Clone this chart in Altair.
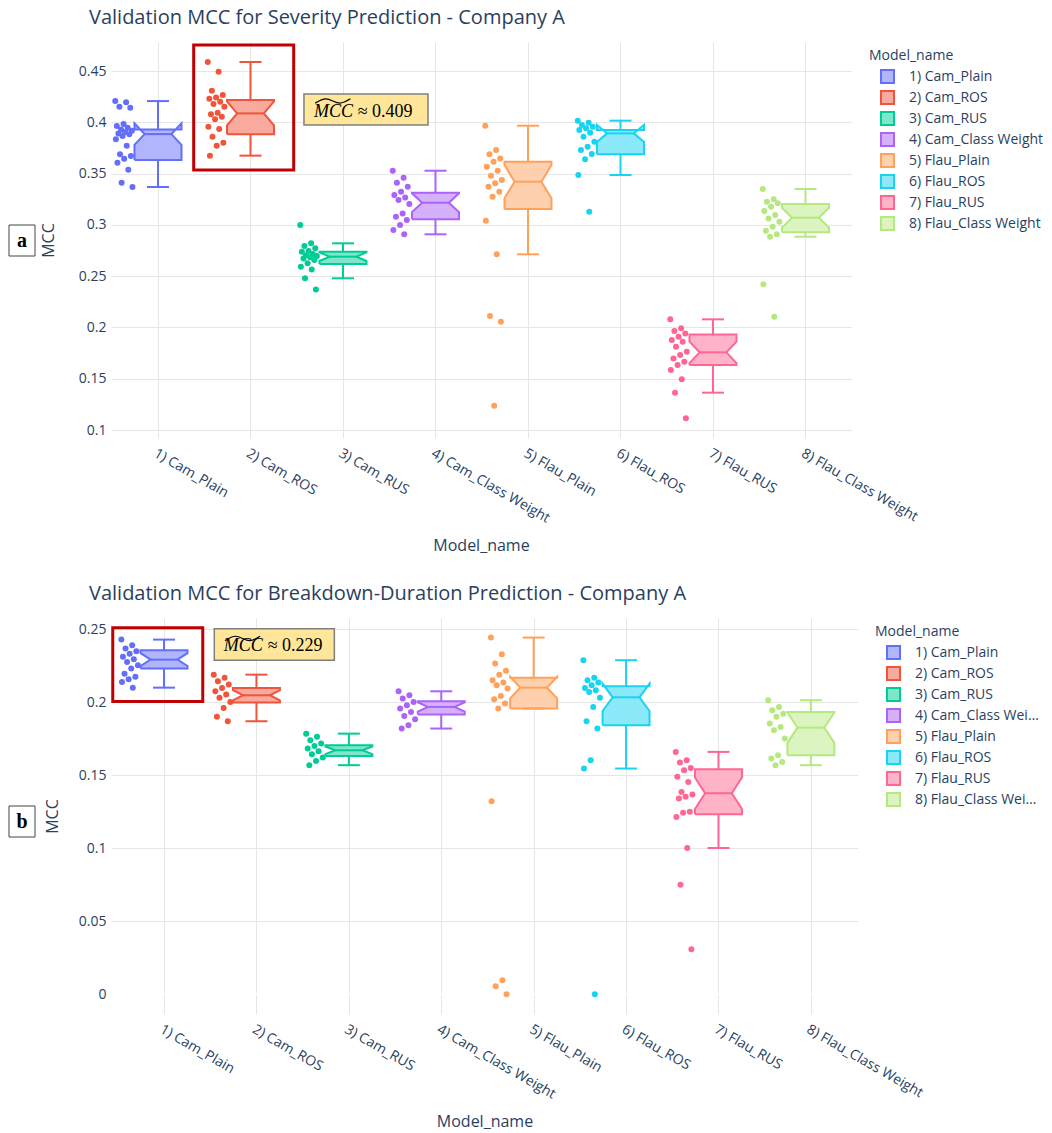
import json
import altair as alt
import numpy as np
import pandas as pd

MODELS = ["1) Cam_Plain", "2) Cam_ROS", "3) Cam_RUS", "4) Cam_Class Weight",
          "5) Flau_Plain", "6) Flau_ROS", "7) Flau_RUS", "8) Flau_Class Weight"]
COLORS = ["#636efa", "#EF553B", "#00cc96", "#ab63fa", "#FFA15A", "#19d3f3", "#FF6692", "#B6E880"]
FILLS = ["#B1B6FC", "#F7AA9D", "#80E6CB", "#D5B1FC", "#FFD0AD", "#8CE9F9", "#FFB3C9", "#DBF4C0"]

# ---- Panel a: severity prediction (validation MCC per run) ----
SEV_CAM_PLAIN = [0.4207, 0.4195, 0.4152, 0.4142, 0.3983, 0.3964, 0.3948, 0.3931, 0.3918, 0.3905, 0.3892,
                 0.3883, 0.3866, 0.3834, 0.3772, 0.3688, 0.3671, 0.3645, 0.3606, 0.3538, 0.3411, 0.3369]
SEV_CAM_ROS = [0.4588, 0.4494, 0.4308, 0.4266, 0.4243, 0.4230, 0.4201, 0.4178, 0.4152, 0.4094, 0.4078,
               0.4055, 0.4029, 0.3957, 0.3934, 0.3860, 0.3801, 0.3772, 0.3675]
SEV_CAM_RUS = [0.2998, 0.2820, 0.2794, 0.2771, 0.2745, 0.2739, 0.2716, 0.2705, 0.2696, 0.2685, 0.2673,
               0.2657, 0.2625, 0.2592, 0.2566, 0.2479, 0.2371]
SEV_CAM_CW = [0.3528, 0.3460, 0.3411, 0.3372, 0.3323, 0.3291, 0.3268, 0.3242, 0.3203, 0.3112, 0.3080,
              0.3047, 0.2998, 0.2950, 0.2908]
SEV_FLAU_PLAIN = [0.3967, 0.3730, 0.3688, 0.3648, 0.3616, 0.3567, 0.3528, 0.3479, 0.3437, 0.3405, 0.3372,
                  0.3323, 0.3275, 0.3041, 0.2713, 0.2111, 0.2056, 0.1237]
SEV_FLAU_ROS = [0.4016, 0.3996, 0.3974, 0.3957, 0.3941, 0.3925, 0.3899, 0.3860, 0.3811, 0.3762, 0.3730,
                0.3691, 0.3639, 0.3486, 0.3129]
SEV_FLAU_RUS = [0.2079, 0.1991, 0.1965, 0.1942, 0.1910, 0.1877, 0.1861, 0.1812, 0.1763, 0.1731, 0.1698,
                0.1666, 0.1633, 0.1585, 0.1494, 0.1364, 0.1114]
SEV_FLAU_CW = [0.3350, 0.3249, 0.3226, 0.3210, 0.3177, 0.3135, 0.3096, 0.3063, 0.3031, 0.2982, 0.2943,
               0.2908, 0.2885, 0.2420, 0.2105]

SEV_Q1 = [0.3632, 0.3883, 0.2618, 0.3054, 0.3155, 0.3688, 0.1634, 0.2927]
SEV_MED = [0.3885, 0.4087, 0.2690, 0.3216, 0.3421, 0.3892, 0.1757, 0.3070]
SEV_Q3 = [0.3931, 0.4217, 0.2739, 0.3314, 0.3616, 0.3925, 0.1932, 0.3203]
SEV_LO = [0.3369, 0.3675, 0.2479, 0.2908, 0.2713, 0.3486, 0.1364, 0.2885]
SEV_HI = [0.4207, 0.4588, 0.2820, 0.3528, 0.3967, 0.4016, 0.2079, 0.3350]

# ---- Panel b: breakdown-duration prediction ----
DUR_CAM_PLAIN = [0.2429, 0.2390, 0.2368, 0.2349, 0.2333, 0.2311, 0.2295, 0.2276, 0.2253, 0.2231, 0.2196,
                 0.2174, 0.2158, 0.2139, 0.2100]
DUR_CAM_ROS = [0.2189, 0.2167, 0.2144, 0.2121, 0.2098, 0.2075, 0.2053, 0.2030, 0.2002, 0.1961, 0.1900, 0.1870]
DUR_CAM_RUS = [0.1785, 0.1763, 0.1740, 0.1717, 0.1701, 0.1683, 0.1664, 0.1644, 0.1621, 0.1598, 0.1569]
DUR_CAM_CW = [0.2075, 0.2048, 0.2025, 0.2002, 0.1979, 0.1957, 0.1934, 0.1906, 0.1884, 0.1842, 0.1820]
DUR_FLAU_PLAIN = [0.2443, 0.2329, 0.2265, 0.2215, 0.2189, 0.2151, 0.2135, 0.2116, 0.2094, 0.2043, 0.2021,
                  0.1991, 0.1957, 0.1322, 0.0096, 0.0055, 0.0000]
DUR_FLAU_ROS = [0.2288, 0.2167, 0.2151, 0.2135, 0.2116, 0.2098, 0.2082, 0.2071, 0.2030, 0.1968, 0.1870,
                0.1820, 0.1603, 0.1546, 0.0000]
DUR_FLAU_RUS = [0.1660, 0.1603, 0.1587, 0.1550, 0.1534, 0.1489, 0.1454, 0.1386, 0.1368, 0.1352, 0.1340,
                0.1250, 0.1244, 0.1215, 0.1002, 0.0751, 0.0308]
DUR_FLAU_CW = [0.2014, 0.1968, 0.1945, 0.1922, 0.1900, 0.1854, 0.1831, 0.1808, 0.1751, 0.1637, 0.1614,
               0.1591, 0.1569]

DUR_Q1 = [0.2231, 0.1998, 0.1632, 0.1916, 0.1957, 0.1842, 0.1233, 0.1637]
DUR_MED = [0.2292, 0.2048, 0.1671, 0.1968, 0.2100, 0.2034, 0.1377, 0.1826]
DUR_Q3 = [0.2356, 0.2098, 0.1706, 0.2007, 0.2167, 0.2110, 0.1541, 0.1934]
DUR_LO = [0.2100, 0.1870, 0.1569, 0.1820, 0.1957, 0.1546, 0.1002, 0.1569]
DUR_HI = [0.2429, 0.2189, 0.1785, 0.2075, 0.2443, 0.2288, 0.1660, 0.2014]

SEV_TICKS = [0.1, 0.15, 0.2, 0.25, 0.3, 0.35, 0.4, 0.45]
DUR_TICKS = [0, 0.05, 0.1, 0.15, 0.2, 0.25]

# ---- geometry / style constants ----
N_RUNS = 20
BOX_HALF = 0.254
NOTCH_HALF = 0.145
CAP_HALF = 0.119
PT_CENTER = -0.367
PT_SPREAD = 0.19
TXT = "#2a3f5f"
FONT = "Open Sans"
LABEL_EXPR = json.dumps(MODELS) + "[datum.value]"

stroke_scale = alt.Scale(domain=MODELS, range=COLORS)
fill_scale = alt.Scale(domain=MODELS, range=FILLS)


def points_df(groups):
    rows = []
    for i, vals in enumerate(groups):
        for k, v in enumerate(vals):
            rows.append({"model": MODELS[i], "idx": i, "k": k, "mcc": v})
    return pd.DataFrame(rows)


def box_df(q1, med, q3):
    rows = []
    for i in range(len(MODELS)):
        notch = 1.57 * (q3[i] - q1[i]) / np.sqrt(N_RUNS)
        nl, nh = med[i] - notch, med[i] + notch
        verts = [(-BOX_HALF, q1[i]), (-BOX_HALF, nl), (-NOTCH_HALF, med[i]), (-BOX_HALF, nh),
                 (-BOX_HALF, q3[i]), (BOX_HALF, q3[i]), (BOX_HALF, nh), (NOTCH_HALF, med[i]),
                 (BOX_HALF, nl), (BOX_HALF, q1[i]), (-BOX_HALF, q1[i])]
        for o, (dx, y) in enumerate(verts):
            rows.append({"model": MODELS[i], "o": o, "bx": i + dx, "by": y})
    return pd.DataFrame(rows)


def seg_df(q1, med, q3, lo, hi):
    rows = []
    for i, m in enumerate(MODELS):
        rows += [
            {"model": m, "sx": i, "sx2": i, "sy": q3[i], "sy2": hi[i]},
            {"model": m, "sx": i, "sx2": i, "sy": lo[i], "sy2": q1[i]},
            {"model": m, "sx": i - CAP_HALF, "sx2": i + CAP_HALF, "sy": hi[i], "sy2": hi[i]},
            {"model": m, "sx": i - CAP_HALF, "sx2": i + CAP_HALF, "sy": lo[i], "sy2": lo[i]},
            {"model": m, "sx": i - NOTCH_HALF, "sx2": i + NOTCH_HALF, "sy": med[i], "sy2": med[i]},
        ]
    return pd.DataFrame(rows)


def legend(lx, limit):
    return alt.Legend(title="Model_name", orient="none", legendX=lx, legendY=7,
                      symbolType="square", symbolSize=169, symbolStrokeWidth=2,
                      labelFont=FONT, titleFont=FONT, labelFontSize=14, titleFontSize=14,
                      labelColor=TXT, titleColor=TXT, titleFontWeight="normal",
                      rowPadding=0, symbolOffset=11, labelOffset=14, titlePadding=6, padding=0,
                      labelLimit=limit)


def panel(title, groups, stats, xdom, ydom, yticks, width, letter, ann, legx, ytp, lab_limit,
          zero_line=False):
    q1, med, q3, lo, hi = stats
    xs = alt.Scale(domain=xdom, nice=False, zero=False)
    ys = alt.Scale(domain=ydom, nice=False, zero=False)
    xaxis = alt.Axis(values=list(range(len(MODELS))), labelExpr=LABEL_EXPR, labelAngle=30,
                     labelAlign="left", labelBaseline="top", labelPadding=8, labelOverlap=False,
                     labelFlush=False, title="Model_name", titlePadding=12, grid=True, ticks=False,
                     domain=False)
    yaxis = alt.Axis(values=yticks, format="~g", title="MCC", grid=True, ticks=False, domain=False,
                     labelPadding=5, titlePadding=ytp)
    leg_def = legend(legx, lab_limit)

    def X(f):
        return alt.X(f, scale=xs, axis=xaxis)

    def Y(f):
        return alt.Y(f, scale=ys, axis=yaxis)

    def S():
        return alt.Stroke("model:N", scale=stroke_scale, legend=leg_def)

    def F():
        return alt.Fill("model:N", scale=fill_scale, legend=leg_def)

    layers = []
    if zero_line:
        layers.append(alt.Chart(pd.DataFrame({"z": [0.0]})).mark_rule(color="white", strokeWidth=2).encode(
            y=Y("z:Q")))

    poly = alt.Chart(box_df(q1, med, q3)).mark_line(strokeWidth=2, strokeJoin="miter").encode(
        x=X("bx:Q"), y=Y("by:Q"), order=alt.Order("o:Q"), stroke=S(), fill=F(),
    )
    segs = alt.Chart(seg_df(q1, med, q3, lo, hi)).mark_rule(strokeWidth=2).encode(
        x=X("sx:Q"), x2="sx2:Q", y=Y("sy:Q"), y2="sy2:Q", stroke=S(),
    )
    pdf = points_df(groups)
    pts = alt.Chart(pdf).transform_calculate(
        px=f"datum.idx + ({PT_CENTER}) + {PT_SPREAD} * (((datum.k * 0.618034) % 1) - 0.5)"
    ).mark_circle(size=36, opacity=1).encode(
        x=X("px:Q"), y=Y("mcc:Q"),
        color=alt.Color("model:N", scale=stroke_scale, legend=None),
    )
    leg = alt.Chart(pdf).transform_filter("false").mark_square(filled=True, opacity=1).encode(
        fill=F(), stroke=S(),
    )
    layers += [poly, segs, pts, leg]

    def rect(d, **kw):
        return alt.Chart(pd.DataFrame([d])).mark_rect(**kw).encode(
            x=X("x:Q"), x2="x2:Q", y=Y("y:Q"), y2="y2:Q")

    layers.append(rect(ann["red"], fillOpacity=0, stroke="#C00000", strokeWidth=3))
    layers.append(rect(ann["yellow"], fill="#FFE699", stroke="#7F7F7F", strokeWidth=1.5))
    layers.append(alt.Chart(pd.DataFrame(ann["tilde"])).mark_line(
        color="black", strokeWidth=1.2, interpolate="monotone").encode(x=X("x:Q"), y=Y("y:Q")))
    for d, style in ((ann["mcc"], "italic"), (ann["val"], "normal")):
        layers.append(alt.Chart(pd.DataFrame([d])).mark_text(
            font="Liberation Serif", fontStyle=style, fontSize=18, align="left",
            baseline="alphabetic", color="black").encode(x=X("x:Q"), y=Y("y:Q"), text="t:N"))
    one = pd.DataFrame({"t": [letter]})
    layers.append(alt.Chart(one).mark_rect(fill="white", stroke="#444444", strokeWidth=1).encode(
        x=alt.value(-102), x2=alt.value(-76), y=alt.value(ann["ly"]), y2=alt.value(ann["ly"] + 31)))
    layers.append(alt.Chart(one).mark_text(font="Liberation Serif", fontWeight="bold", fontSize=20,
                                           align="center", baseline="middle", color="black").encode(
        x=alt.value(-89), y=alt.value(ann["ly"] + 15.5), text="t:N"))

    return alt.layer(*layers).properties(
        width=width, height=396,
        title=alt.TitleParams(title, anchor="start", frame="group", dx=-22, offset=14, fontSize=20,
                              font=FONT, fontWeight="normal", color=TXT),
    )


def tilde(x0, x1, yc, amp):
    xs_ = [x0, x0 + 0.3 * (x1 - x0), x0 + 0.7 * (x1 - x0), x1]
    ys_ = [yc - amp, yc + amp, yc - amp, yc + amp]
    return {"x": xs_, "y": ys_}


ann_a = {
    "red": {"x": 0.386, "x2": 1.467, "y": 0.4753, "y2": 0.3535},
    "yellow": {"x": 1.578, "x2": 2.919, "y": 0.4276, "y2": 0.3974},
    "tilde": tilde(1.70, 2.08, 0.4208, 0.0021),
    "mcc": {"x": 1.686, "y": 0.4055, "t": "MCC"},
    "val": {"x": 2.159, "y": 0.4055, "t": f"≈ {SEV_MED[1]:.3f}"},
    "ly": 183,
}
ann_b = {
    "red": {"x": -0.555, "x2": 0.419, "y": 0.2511, "y2": 0.2005},
    "yellow": {"x": 0.544, "x2": 1.843, "y": 0.2504, "y2": 0.2288},
    "tilde": tilde(0.66, 1.04, 0.2437, 0.0015),
    "mcc": {"x": 0.646, "y": 0.2349, "t": "MCC"},
    "val": {"x": 1.122, "y": 0.2349, "t": f"≈ {DUR_MED[0]:.3f}"},
    "ly": 188,
}

pa = panel("Validation MCC for Severity Prediction - Company A",
           [SEV_CAM_PLAIN, SEV_CAM_ROS, SEV_CAM_RUS, SEV_CAM_CW, SEV_FLAU_PLAIN, SEV_FLAU_ROS,
            SEV_FLAU_RUS, SEV_FLAU_CW],
           (SEV_Q1, SEV_MED, SEV_Q3, SEV_LO, SEV_HI),
           [-0.508, 7.492], [0.0922, 0.4783], SEV_TICKS, 740, "a", ann_a, 758, 22, 300)
pb = panel("Validation MCC for Breakdown-Duration Prediction - Company A",
           [DUR_CAM_PLAIN, DUR_CAM_ROS, DUR_CAM_RUS, DUR_CAM_CW, DUR_FLAU_PLAIN, DUR_FLAU_ROS,
            DUR_FLAU_RUS, DUR_FLAU_CW],
           (DUR_Q1, DUR_MED, DUR_Q3, DUR_LO, DUR_HI),
           [-0.574, 7.510], [-0.0135, 0.2577], DUR_TICKS, 747, "b", ann_b, 764, 18, 128,
           zero_line=True)

chart = alt.vconcat(pa, pb, spacing=30).resolve_scale(
    color="independent", fill="independent", stroke="independent"
).resolve_legend(
    fill="independent", stroke="independent"
).properties(padding=0).configure(
    font=FONT, background="white"
).configure_view(
    stroke=None
).configure_axis(
    labelFont=FONT, labelFontSize=14, labelColor=TXT, titleFont=FONT, titleFontSize=16,
    titleColor=TXT, titleFontWeight="normal", gridColor="#E6E6E6", gridWidth=1
)

chart.save("out.html", embed_options={"renderer": "svg", "actions": False})
